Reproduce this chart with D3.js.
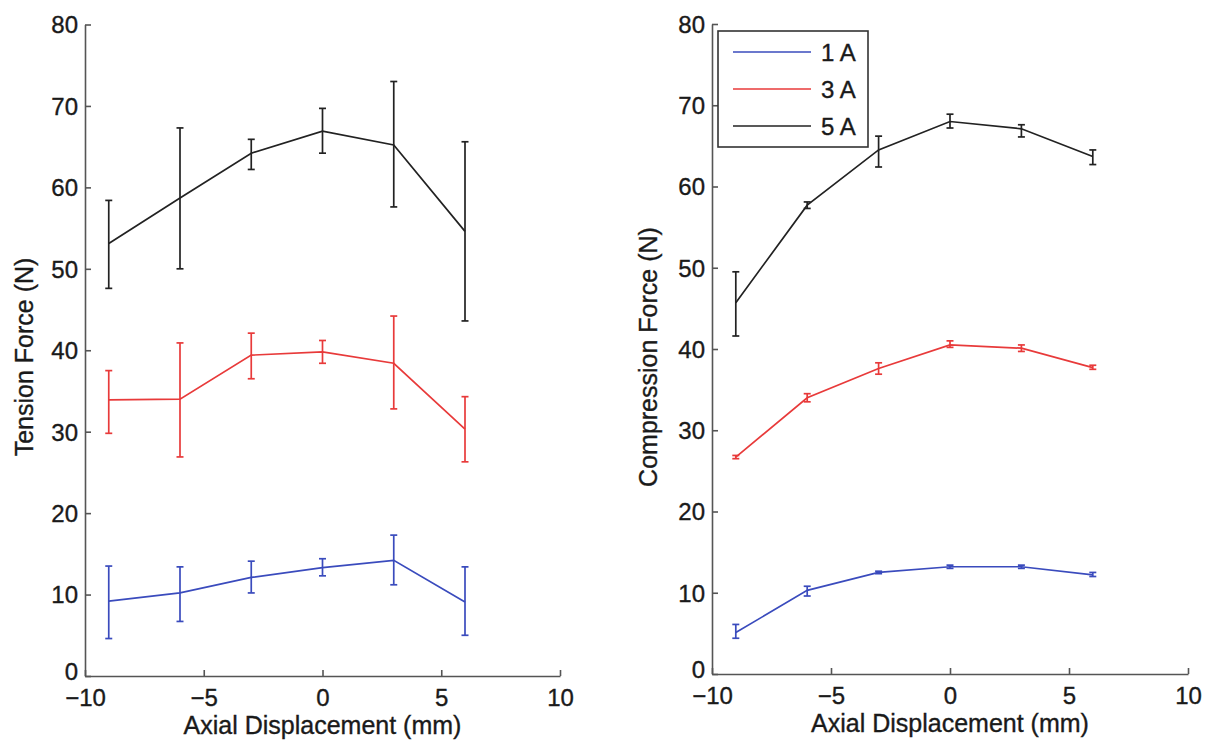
<!DOCTYPE html>
<html>
<head>
<meta charset="utf-8">
<script src="https://cdn.jsdelivr.net/npm/d3@7"></script>
<style>
  html, body { margin: 0; padding: 0; background: #fff; }
  svg text { font-family: "Liberation Sans", Arial, Helvetica, sans-serif; fill: #1a1a1a; stroke: #1a1a1a; stroke-width: 0.35px; }
</style>
</head>
<body>
<svg id="chart" width="1216" height="744"></svg>
<script>
// ---- Data ----
const displacement = [-9, -6, -3, 0, 3, 6];
const seriesNames = ["1 A", "3 A", "5 A"];
const seriesColors = ["#3a4bbd", "#e83a3a", "#222222"];

// Tension (left panel): mean, lower, upper
const tension1A = [9.2, 10.2, 12.1, 13.3, 14.2, 9.1];
const tension1ALow = [4.6, 6.7, 10.2, 12.3, 11.2, 5.0];
const tension1AHigh = [13.5, 13.4, 14.1, 14.4, 17.3, 13.4];
const tension3A = [33.9, 34.0, 39.4, 39.8, 38.4, 30.3];
const tension3ALow = [29.8, 26.9, 36.5, 38.4, 32.8, 26.3];
const tension3AHigh = [37.5, 40.9, 42.1, 41.2, 44.2, 34.3];
const tension5A = [53.1, 58.7, 64.2, 66.9, 65.2, 54.6];
const tension5ALow = [47.6, 50.0, 62.2, 64.2, 57.6, 43.6];
const tension5AHigh = [58.4, 67.3, 65.9, 69.7, 73.0, 65.6];

// Compression (right panel)
const compression1A = [5.1, 10.3, 12.5, 13.2, 13.2, 12.2];
const compression1ALow = [4.4, 9.6, 12.35, 13.0, 13.0, 12.0];
const compression1AHigh = [6.1, 10.8, 12.65, 13.4, 13.4, 12.5];
const compression3A = [26.7, 34.0, 37.6, 40.5, 40.1, 37.7];
const compression3ALow = [26.5, 33.5, 36.9, 40.2, 39.7, 37.5];
const compression3AHigh = [26.9, 34.5, 38.3, 41.0, 40.5, 38.0];
const compression5A = [45.7, 57.7, 64.5, 68.0, 67.1, 63.7];
const compression5ALow = [41.6, 57.3, 62.4, 67.2, 66.1, 62.7];
const compression5AHigh = [49.5, 58.1, 66.2, 68.9, 67.6, 64.5];

const xTicks = [-10, -5, 0, 5, 10];
const yTicks = [0, 10, 20, 30, 40, 50, 60, 70, 80];

const xLabel = "Axial Displacement (mm)";
const leftYLabel = "Tension Force (N)";
const rightYLabel = "Compression Force (N)";

// ---- Drawing ----
const svg = d3.select("#chart");

function buildSeries(means, lows, highs) {
  return displacement.map((x, i) => ({ x, y: means[i], lo: lows[i], hi: highs[i] }));
}

function drawPanel(cfg) {
  const x = d3.scaleLinear().domain([-10, 10]).range([cfg.x0, cfg.x1]);
  const y = d3.scaleLinear().domain([0, 80]).range([cfg.y0, cfg.y1]);
  const g = svg.append("g");

  const xAxis = g.append("g")
    .attr("transform", `translate(0,${cfg.y0})`)
    .call(d3.axisBottom(x).tickValues(xTicks).tickSizeInner(-6).tickSizeOuter(0).tickPadding(13).tickFormat(d3.format("d")));
  const yAxis = g.append("g")
    .attr("transform", `translate(${cfg.x0},0)`)
    .call(d3.axisLeft(y).tickValues(yTicks).tickSizeInner(-6).tickSizeOuter(0).tickPadding(7).tickFormat(d3.format("d")));
  [xAxis, yAxis].forEach(a => {
    a.selectAll("path").attr("stroke", "#555").attr("stroke-width", 1.6);
    a.selectAll("line").attr("stroke", "#555").attr("stroke-width", 1.6);
    a.selectAll("text").attr("font-size", 24).attr("fill", "#1a1a1a");
  });
  yAxis.selectAll("text").attr("dy", "0.35em");
  // lift the "0" label slightly so it clears the x tick label beneath it
  yAxis.selectAll(".tick").filter(d => d === 0).select("text").attr("dy", "3px");

  const line = d3.line().x(d => x(d.x)).y(d => y(d.y));
  cfg.series.forEach((s, i) => {
    const col = seriesColors[i];
    g.append("path").datum(s).attr("d", line)
      .attr("fill", "none").attr("stroke", col).attr("stroke-width", 1.7);
    const eb = g.append("g").attr("stroke", col).attr("stroke-width", 1.7);
    eb.selectAll("line.v").data(s).join("line").attr("class", "v")
      .attr("x1", d => x(d.x)).attr("x2", d => x(d.x))
      .attr("y1", d => y(d.lo)).attr("y2", d => y(d.hi));
    eb.selectAll("line.t").data(s).join("line").attr("class", "t")
      .attr("x1", d => x(d.x) - 3.5).attr("x2", d => x(d.x) + 3.5)
      .attr("y1", d => y(d.hi)).attr("y2", d => y(d.hi));
    eb.selectAll("line.b").data(s).join("line").attr("class", "b")
      .attr("x1", d => x(d.x) - 3.5).attr("x2", d => x(d.x) + 3.5)
      .attr("y1", d => y(d.lo)).attr("y2", d => y(d.lo));
  });

  g.append("text").attr("x", (cfg.x0 + cfg.x1) / 2).attr("y", cfg.y0 + 58)
    .attr("text-anchor", "middle").attr("font-size", 25).text(xLabel);
  g.append("text")
    .attr("transform", `translate(${cfg.yLabelX},${cfg.yLabelY}) rotate(-90)`)
    .attr("text-anchor", "middle").attr("font-size", 25).text(cfg.yLabel);
  return { x, y, g };
}

drawPanel({
  x0: 85, x1: 560, y0: 676, y1: 24.5, yLabelX: 33, yLabelY: 357, yLabel: leftYLabel,
  series: [buildSeries(tension1A, tension1ALow, tension1AHigh),
           buildSeries(tension3A, tension3ALow, tension3AHigh),
           buildSeries(tension5A, tension5ALow, tension5AHigh)]
});

drawPanel({
  x0: 712, x1: 1188, y0: 674, y1: 24, yLabelX: 657, yLabelY: 357, yLabel: rightYLabel,
  series: [buildSeries(compression1A, compression1ALow, compression1AHigh),
           buildSeries(compression3A, compression3ALow, compression3AHigh),
           buildSeries(compression5A, compression5ALow, compression5AHigh)]
});

// Legend
const legend = svg.append("g").attr("transform", "translate(718,31)");
legend.append("rect").attr("width", 150).attr("height", 116)
  .attr("fill", "#fff").attr("stroke", "#333").attr("stroke-width", 1.6);
seriesNames.forEach((name, i) => {
  const cy = 21 + i * 37;
  legend.append("line").attr("x1", 15).attr("x2", 93).attr("y1", cy).attr("y2", cy)
    .attr("stroke", seriesColors[i]).attr("stroke-width", 1.6);
  legend.append("text").attr("x", 103).attr("y", cy).attr("dy", "0.36em")
    .attr("font-size", 24).text(name);
});
</script>
</body>
</html>
